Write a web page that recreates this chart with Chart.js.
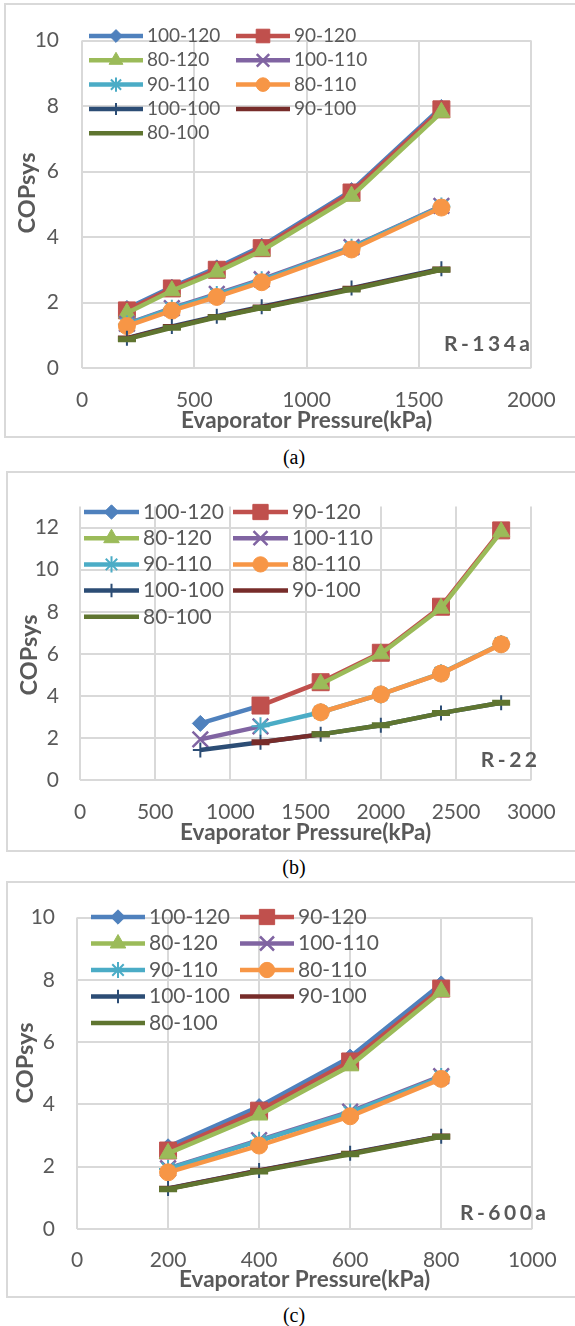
<!DOCTYPE html>
<html>
<head>
<meta charset="utf-8">
<script src="https://cdn.jsdelivr.net/npm/chart.js@4.4.0/dist/chart.umd.min.js"></script>
<style>
body { margin: 0; width: 575px; height: 1326px; overflow: hidden; background: #fff; position: relative; }
.box { position: absolute; border: 2px solid #D9D9D9; width: 640px; box-sizing: border-box; }
canvas { position: absolute; }
.cap { position: absolute; left: 0; width: 588px; text-align: center; line-height: 24px;
       font-family: "Liberation Serif", "Times New Roman", serif; font-size: 20px; color: #000; }
</style>
</head>
<body>
<div class="box" style="left:4px;top:3px;height:435px"></div>
<canvas id="chartA" width="569" height="431" style="left:6px;top:5px"></canvas>
<div class="cap" style="top:445px">(a)</div>

<div class="box" style="left:6px;top:471px;height:381px"></div>
<canvas id="chartB" width="567" height="377" style="left:8px;top:473px"></canvas>
<div class="cap" style="top:855px">(b)</div>

<div class="box" style="left:6px;top:881px;height:417px"></div>
<canvas id="chartC" width="567" height="413" style="left:8px;top:883px"></canvas>
<div class="cap" style="top:1303px">(c)</div>

<script>
// series names / colours (Excel 2010 palette)
var seriesNames = ['100-120', '90-120', '80-120', '100-110', '90-110', '80-110', '100-100', '90-100', '80-100'];
var seriesColors = ['#4F81BD', '#C0504D', '#9BBB59', '#8064A2', '#4BACC6', '#F79646', '#2C4D75', '#772C2A', '#5F7530'];

// (a) R-134a
var pressureA = [200, 400, 600, 800, 1200, 1600];
var a100_120 = [1.82, 2.47, 3.06, 3.72, 5.42, 7.96];
var a90_120  = [1.76, 2.43, 3.00, 3.66, 5.36, 7.90];
var a80_120  = [1.68, 2.36, 2.93, 3.58, 5.25, 7.81];
var a100_110 = [1.35, 1.83, 2.26, 2.71, 3.69, 4.95];
var a90_110  = [1.33, 1.81, 2.23, 2.68, 3.67, 4.93];
var a80_110  = [1.28, 1.75, 2.17, 2.62, 3.62, 4.90];
var a100_100 = [0.91, 1.27, 1.58, 1.87, 2.44, 3.03];
var a90_100  = [0.90, 1.25, 1.56, 1.85, 2.42, 3.01];
var a80_100  = [0.88, 1.23, 1.55, 1.83, 2.40, 3.00];

// (b) R-22
var pressureB = [800, 1200, 1600, 2000, 2400, 2800];
var b100_120 = [2.69, 3.54, null, null, null, null];
var b90_120  = [null, 3.54, 4.65, 6.05, 8.24, 11.87];
var b80_120  = [null, null, 4.57, 6.00, 8.17, 11.80];
var b100_110 = [1.93, 2.55, null, null, null, null];
var b90_110  = [null, 2.55, 3.22, 4.07, 5.07, 6.47];
var b80_110  = [null, null, 3.22, 4.07, 5.06, 6.45];
var b100_100 = [1.43, 1.79, 2.17, 2.60, 3.18, 3.67];
var b90_100  = [null, 1.79, 2.17, null, null, null];
var b80_100  = [null, null, 2.17, 2.60, 3.18, 3.67];

// (c) R-600a
var pressureC = [200, 400, 600, 800];
var c100_120 = [2.64, 3.93, 5.52, 7.87];
var c90_120  = [2.52, 3.80, 5.38, 7.72];
var c80_120  = [2.43, 3.66, 5.24, 7.63];
var c100_110 = [1.95, 2.85, 3.77, 4.91];
var c90_110  = [1.93, 2.83, 3.74, 4.88];
var c80_110  = [1.82, 2.68, 3.62, 4.82];
var c100_100 = [1.30, 1.88, 2.43, 2.98];
var c90_100  = [1.29, 1.87, 2.42, 2.97];
var c80_100  = [1.28, 1.85, 2.40, 2.96];

var markers = [
    { style: 'rectRot',  r: 8,   bw: 1 },
    { style: 'rect',     r: 12,  bw: 1 },
    { style: 'triangle', r: 10,  bw: 1 },
    { style: 'crossRot', r: 11,  bw: 2.5 },
    { style: 'star',     r: 9,   bw: 2 },
    { style: 'circle',   r: 8.5, bw: 1 },
    { style: 'cross',    r: 7.5, bw: 2 },
    { style: 'line',     r: 9,   bw: 6 },
    { style: 'line',     r: 9,   bw: 6 }
];

Chart.defaults.font.family = 'Lato';
Chart.defaults.color = '#595959';

function spacedText(ctx, text, right, y, spacing) {
    var w = 0;
    for (var ch of text) w += ctx.measureText(ch).width + spacing;
    w -= spacing;
    var x = right - w;
    for (var ch of text) {
        ctx.fillText(ch, x, y);
        x += ctx.measureText(ch).width + spacing;
    }
}

// legend inside plot, y-axis title and refrigerant tag
var panelDecor = {
    id: 'panelDecor',
    afterDatasetsDraw: function(chart, args, opts) {
        var ctx = chart.ctx;
        var lg = opts.legend;
        ctx.save();
        chart.data.datasets.forEach(function(ds, i) {
            var col = i % 2, row = Math.floor(i / 2);
            var x1 = lg.cols[col], x2 = x1 + lg.len, y = lg.y0 + row * lg.dy;
            ctx.strokeStyle = ds.borderColor;
            ctx.lineWidth = ds.borderWidth;
            ctx.lineCap = 'butt';
            ctx.beginPath();
            ctx.moveTo(x1, y);
            ctx.lineTo(x2, y);
            ctx.stroke();
            if (ds.pointStyle !== 'line') {
                ctx.fillStyle = ds.pointBackgroundColor;
                ctx.strokeStyle = ds.pointBorderColor;
                ctx.lineWidth = ds.pointBorderWidth;
                Chart.helpers.drawPoint(ctx, {
                    pointStyle: ds.pointStyle, rotation: 0,
                    radius: ds.pointRadius * lg.markerScale, borderWidth: ds.pointBorderWidth
                }, (x1 + x2) / 2, y);
            }
            ctx.fillStyle = '#595959';
            ctx.font = lg.font;
            ctx.textAlign = 'left';
            ctx.textBaseline = 'middle';
            ctx.fillText(ds.label, x2 + lg.gap, y);
        });

        ctx.fillStyle = '#595959';
        ctx.font = 'bold 23.5px Lato';
        ctx.textAlign = 'center';
        ctx.textBaseline = 'middle';
        ctx.translate(opts.yTitle.x, opts.yTitle.y);
        ctx.rotate(-Math.PI / 2);
        ctx.fillText('COPsys', 0, 0);
        ctx.restore();

        ctx.save();
        ctx.fillStyle = '#595959';
        ctx.font = 'bold 21px Lato';
        ctx.textAlign = 'left';
        ctx.textBaseline = 'middle';
        spacedText(ctx, opts.tag.text, opts.tag.x, opts.tag.y, 3.5);
        ctx.restore();
    }
};

function makeChart(id, xs, series, cfg) {
    var datasets = series.map(function(vals, i) {
        var m = markers[i];
        return {
            label: seriesNames[i],
            data: xs.map(function(x, j) { return { x: x, y: vals[j] }; }),
            borderColor: seriesColors[i],
            backgroundColor: seriesColors[i],
            borderWidth: 4.5,
            pointStyle: m.style,
            pointRadius: m.r,
            pointBorderWidth: m.bw,
            pointBackgroundColor: seriesColors[i],
            pointBorderColor: seriesColors[i],
            tension: 0,
            order: 20 - i
        };
    });
    return new Chart(document.getElementById(id).getContext('2d'), {
        type: 'line',
        data: { datasets: datasets },
        options: {
            responsive: false,
            animation: false,
            events: [],
            layout: { padding: { left: 0, top: cfg.top, right: cfg.right, bottom: 0 } },
            plugins: {
                legend: { display: false },
                tooltip: { enabled: false },
                panelDecor: { legend: cfg.legend, yTitle: cfg.yTitle, tag: cfg.tag }
            },
            scales: {
                x: {
                    type: 'linear',
                    min: 0,
                    max: cfg.xMax,
                    afterFit: function(scale) { scale.height = cfg.xHeight; },
                    ticks: {
                        stepSize: cfg.xStep, padding: cfg.xPad, font: { size: 21 }, color: '#595959',
                        callback: function(v) { return String(v); }
                    },
                    grid: { color: '#D9D9D9', lineWidth: 2, drawTicks: false },
                    border: { display: false },
                    title: {
                        display: true,
                        text: 'Evaporator Pressure(kPa)',
                        color: '#595959',
                        font: { size: 22.5, weight: 'bold' },
                        padding: { top: 0, bottom: cfg.titlePad }
                    }
                },
                y: {
                    min: 0,
                    max: cfg.yMax,
                    afterFit: function(scale) { scale.width = cfg.yWidth; },
                    ticks: { stepSize: 2, padding: cfg.yPad, includeBounds: false, font: { size: 21 }, color: '#595959' },
                    grid: { color: '#D9D9D9', lineWidth: 2, drawTicks: false },
                    border: { display: false }
                }
            }
        },
        plugins: [panelDecor]
    });
}

makeChart('chartA', pressureA,
    [a100_120, a90_120, a80_120, a100_110, a90_110, a80_110, a100_100, a90_100, a80_100], {
    xMax: 2000, xStep: 500, yMax: 10,
    top: 14, right: 36, xHeight: 68, yWidth: 76,
    xPad: 19.4, yPad: 23, titlePad: 1.5,
    legend: { cols: [83, 230], len: 54, gap: 4, y0: 31, dy: 24.3, font: '19px Lato', markerScale: 0.8 },
    yTitle: { x: 21.5, y: 188 },
    tag: { text: 'R-134a', x: 524, y: 339 }
});

makeChart('chartB', pressureB,
    [b100_120, b90_120, b80_120, b100_110, b90_110, b80_110, b100_100, b90_100, b80_100], {
    xMax: 3000, xStep: 500, yMax: 13,
    top: 17, right: 38, xHeight: 70, yWidth: 72,
    xPad: 19.4, yPad: 21, titlePad: 3.5,
    legend: { cols: [76, 225], len: 55, gap: 4, y0: 39, dy: 26.2, font: '21px Lato', markerScale: 0.9 },
    yTitle: { x: 21, y: 182 },
    tag: { text: 'R-22', x: 529, y: 287 }
});

makeChart('chartC', pressureC,
    [c100_120, c90_120, c80_120, c100_110, c90_110, c80_110, c100_100, c90_100, c80_100], {
    xMax: 1000, xStep: 200, yMax: 10,
    top: 13, right: 38, xHeight: 67, yWidth: 69,
    xPad: 18.4, yPad: 22, titlePad: 2.5,
    legend: { cols: [83, 232], len: 54, gap: 4, y0: 34, dy: 26.5, font: '21px Lato', markerScale: 0.9 },
    yTitle: { x: 17, y: 180 },
    tag: { text: 'R-600a', x: 538, y: 330 }
});
</script>
</body>
</html>
